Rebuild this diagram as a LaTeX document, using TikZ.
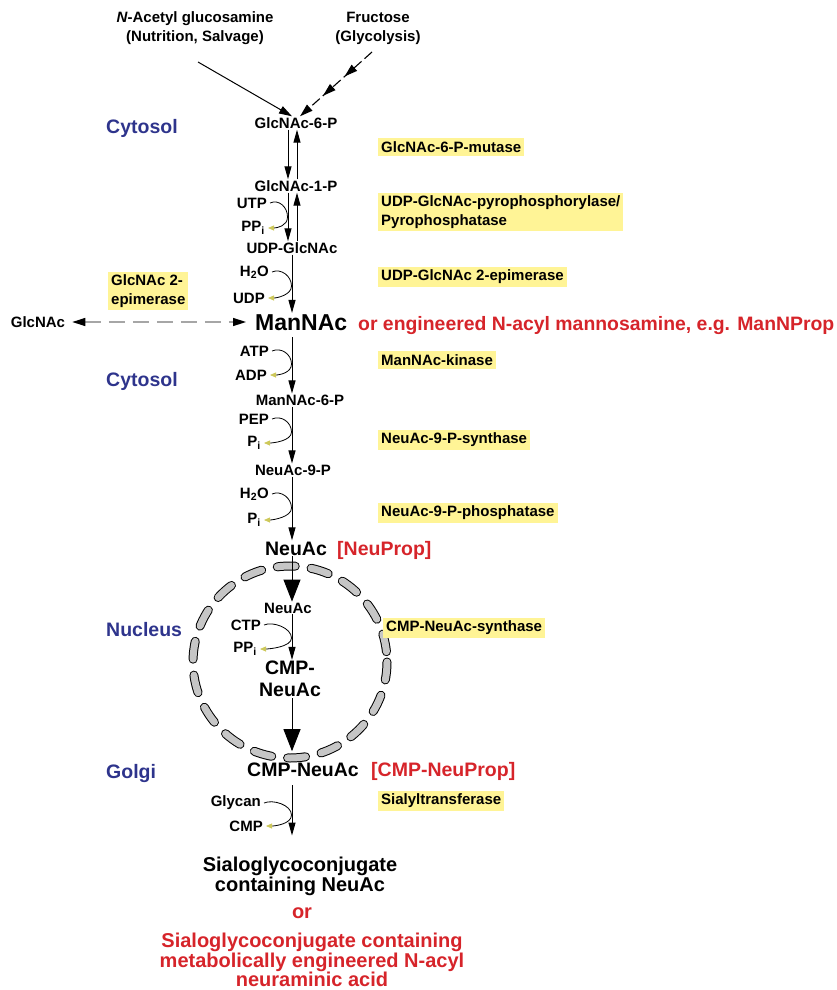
\documentclass[tikz,border=0pt]{standalone}
\usepackage{fontspec}
\setmainfont{Liberation Sans}
\usetikzlibrary{arrows.meta,decorations.markings}
\definecolor{ylw}{RGB}{255,244,150}
\definecolor{rd}{RGB}{214,36,42}
\definecolor{bl}{RGB}{46,52,140}
\definecolor{tipc}{RGB}{205,200,90}
\newcommand{\sidecurve}[4]{%
  \draw[side] ([xshift=2pt]#1.east) .. controls +(9,-4) and +(0,-10) .. (#3,#4)
     .. controls +(0,9) and +(9,0) .. ([xshift=2pt]#2.east);}
\begin{document}
\begin{tikzpicture}[x=1pt,y=-1pt,
 sm/.style={font=\bfseries\fontsize{15}{19}\selectfont, inner sep=1pt},
 big/.style={font=\bfseries\fontsize{19.5}{22}\selectfont, inner sep=1pt},
 bigb/.style={font=\bfseries\fontsize{20}{18}\selectfont, inner sep=1pt},
 enz/.style={sm, fill=ylw, anchor=west, inner xsep=3pt, inner ysep=3pt, align=left},
 comp/.style={big, text=bl, anchor=west},
 rx/.style={line width=1pt, -{Triangle[length=13pt,width=7pt]}},
 side/.style={line width=0.8pt, -{Triangle[length=6pt,width=5pt,color=tipc]}},
 bigarr/.style={line width=0.9pt, -{Triangle[length=22pt,width=17pt]}},
 tarr/.style={-{Triangle[length=13pt,width=8pt]}},
]
\useasboundingbox (0,0) rectangle (836,990);
\coordinate (ax) at (292,0);
\coordinate (axL) at (288,0);
\coordinate (axR) at (297,0);

% top sources
\node[sm, align=center] (nag) at (195,28) {\textit{N}-Acetyl glucosamine\\(Nutrition, Salvage)};
\node[sm, align=center] (fru) at (378,28) {Fructose\\(Glycolysis)};
\coordinate (s1) at (198,62);
\coordinate (s2) at (372,52);
\node[sm] (g6p) at (296,123) {GlcNAc-6-P};
\draw[line width=1pt, tarr] (s1) -- ([xshift=-4pt]g6p.north);
\draw[line width=1.1pt, dash pattern=on 10pt off 4pt, tarr,
  postaction={decorate}, decoration={markings,
   mark=at position 0.38 with {\arrow{Triangle[length=13pt,width=8pt]}},
   mark=at position 0.68 with {\arrow{Triangle[length=13pt,width=8pt]}}}]
  (s2) -- ([xshift=4pt]g6p.north);

\node[comp] (cyt1) at (105,128) {Cytosol};
\node[enz] (e1) at (378,147) {GlcNAc-6-P-mutase};
\node[sm] (g1p) at (296,186) {GlcNAc-1-P};
\draw[rx] (axL |- g6p.south) -- (axL |- g1p.north);
\draw[rx] (axR |- g1p.north) -- (axR |- g6p.south);

% UTP / PPi
\node[sm, anchor=east] (utp) at (268,203) {UTP};
\node[sm, anchor=east] (ppi) at (266,228) {PP\textsubscript{i}};
\node[enz] (e2) at (378,212) {UDP-GlcNAc-pyrophosphorylase/\\Pyrophosphatase};
\node[sm] (udpg) at (292,248) {UDP-GlcNAc};
\draw[rx] (axL |- g1p.south) -- (axL |- udpg.north);
\draw[rx] (axR |- udpg.north) -- (axR |- g1p.south);
\sidecurve{utp}{ppi}{287.5}{217}

% H2O / UDP
\node[sm, anchor=east] (h2o1) at (270,272) {H\textsubscript{2}O};
\node[sm, anchor=east] (udp) at (266,298) {UDP};
\node[enz] (e3) at (378,277) {UDP-GlcNAc 2-epimerase};
\node[font=\bfseries\fontsize{23}{25}\selectfont, anchor=base west, inner sep=1pt] (mannac) at (254,330) {ManNAc};
\node[bigb, text=rd, anchor=base west, font=\bfseries\fontsize{19.4}{22}\selectfont] (eng) at (357,330) {or engineered N-acyl mannosamine, e.g. ManNProp};
\draw[rx] (ax |- udpg.south) -- (ax |- mannac.north);
\sidecurve{h2o1}{udp}{291.5}{286}

% GlcNAc 2-epimerase
\node[enz] (e0) at (108,291) {GlcNAc 2-\\epimerase};
\node[sm] (glcnac) at (38,322) {GlcNAc};
\draw[line width=1.5pt, gray!70, dash pattern=on 16pt off 8pt,
  {Triangle[length=13pt,width=8pt,color=black]}-{Triangle[length=13pt,width=8pt,color=black]}]
  ([xshift=6pt]glcnac.east) -- ([xshift=-8pt]mannac.west |- glcnac.east);

% ATP / ADP
\node[sm, anchor=east] (atp) at (270,351) {ATP};
\node[sm, anchor=east] (adp) at (268,375) {ADP};
\node[enz] (e4) at (378,360) {ManNAc-kinase};
\node[comp] (cyt2) at (105,381) {Cytosol};
\node[sm] (m6p) at (300,400) {ManNAc-6-P};
\draw[rx, shorten <=6pt] (ax |- mannac.south) -- (ax |- m6p.north);
\sidecurve{atp}{adp}{291.5}{364}

% PEP / Pi
\node[sm, anchor=east] (pep) at (270,419) {PEP};
\node[sm, anchor=east] (pi1) at (262,443) {P\textsubscript{i}};
\node[enz] (e5) at (378,440) {NeuAc-9-P-synthase};
\node[sm] (n9p) at (293,470) {NeuAc-9-P};
\draw[rx] (ax |- m6p.south) -- (ax |- n9p.north);
\sidecurve{pep}{pi1}{291.5}{432}

% H2O / Pi
\node[sm, anchor=east] (h2o2) at (270,494) {H\textsubscript{2}O};
\node[sm, anchor=east] (pi2) at (262,520) {P\textsubscript{i}};
\node[enz] (e6) at (378,513) {NeuAc-9-P-phosphatase};
\node[big, anchor=base] (neuac) at (296,555) {NeuAc};
\node[big, text=rd, anchor=base west] (neuprop) at (336,555) {[NeuProp]};
\draw[rx] (ax |- n9p.south) -- (ax |- neuac.north);
\sidecurve{h2o2}{pi2}{291.5}{508}

% nucleus
\draw[line width=9pt, black, dash pattern=on 18pt off 16pt, line cap=round]
  (290,662) ellipse [x radius=97, y radius=96];
\draw[line width=7pt, gray!45, dash pattern=on 18pt off 16pt, line cap=round]
  (290,662) ellipse [x radius=97, y radius=96];
\node[sm] (neuac2) at (288,608) {NeuAc};
\draw[bigarr] (ax |- neuac.south) -- (ax |- neuac2.north);
\node[comp] (nuc) at (105,630) {Nucleus};
\node[sm, anchor=east] (ctp) at (262,625) {CTP};
\node[sm, anchor=east] (ppi2) at (258,649) {PP\textsubscript{i}};
\node[enz] (e7) at (383,628) {CMP-NeuAc-synthase};
\node[big, align=center] (cmpn) at (290,679) {CMP-\\NeuAc};
\draw[rx] (ax |- neuac2.south) -- (ax |- cmpn.north);
\sidecurve{ctp}{ppi2}{291.5}{638}

% golgi
\node[comp] (golgi) at (105,773) {Golgi};
\node[big, anchor=base] (cmp2) at (303,776) {CMP-NeuAc};
\node[big, text=rd, anchor=base west] (cmpprop) at (370,776) {[CMP-NeuProp]};
\draw[bigarr, shorten >=10pt] (ax |- cmpn.south) -- (ax |- cmp2.north);
\node[enz] (e8) at (378,801) {Sialyltransferase};
\node[sm, anchor=east] (gly) at (262,803) {Glycan};
\node[sm, anchor=east] (cmp3) at (264,826) {CMP};
\node[bigb, align=center] (sia) at (300,876) {Sialoglycoconjugate\\containing NeuAc};
\draw[rx, shorten <=8pt, shorten >=20pt] (ax |- cmp2.south) -- (ax |- sia.north);
\sidecurve{gly}{cmp3}{291.5}{815}
\node[bigb, text=rd] (or) at (302,913) {or};
\node[bigb, text=rd, align=center] (siar) at (312,960) {Sialoglycoconjugate containing\\metabolically engineered N-acyl\\neuraminic acid};
\end{tikzpicture}
\end{document}
